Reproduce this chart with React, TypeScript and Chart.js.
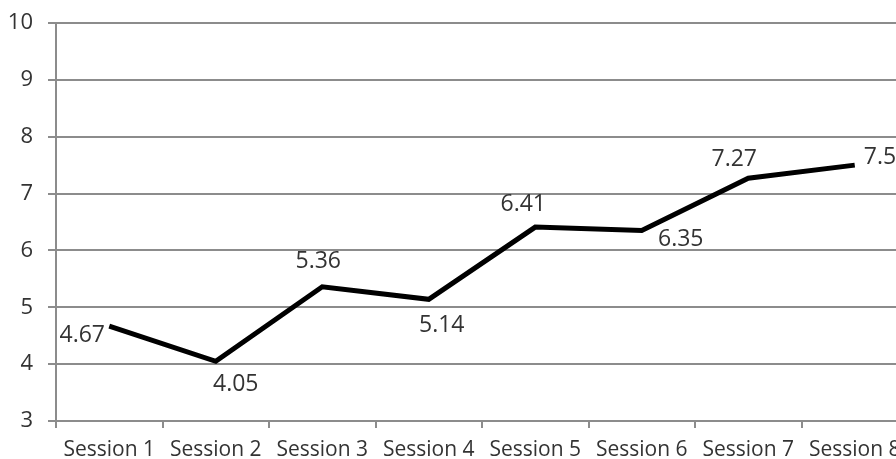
import { useEffect, useRef } from "react";
import { Chart, registerables } from "chart.js";

Chart.register(...registerables);

// Session names and average scores
const sessions = [
  "Session 1",
  "Session 2",
  "Session 3",
  "Session 4",
  "Session 5",
  "Session 6",
  "Session 7",
  "Session 8",
];
const scores = [4.67, 4.05, 5.36, 5.14, 6.41, 6.35, 7.27, 7.5];
const scoreLabels = ["4.67", "4.05", "5.36", "5.14", "6.41", "6.35", "7.27", "7.5"];

// Value axis range
const yMin = 3;
const yMax = 10;
const yStep = 1;

// Label offsets (dx, dy) from each point, and text alignment
const labelOffsets: [number, number, CanvasTextAlign][] = [
  [-27, 9, "center"],
  [20, 23, "center"],
  [-4, -25, "center"],
  [13, 26, "center"],
  [-12, -23, "center"],
  [39, 9, "center"],
  [-14, -19, "center"],
  [9, -8, "left"],
];

const GRID = "#8c8c8c";
const TEXT = "#333333";
const FONT = "'Open Sans', sans-serif";

const pointLabels = {
  id: "pointLabels",
  afterDatasetsDraw(chart: Chart) {
    const ctx = chart.ctx;
    const meta = chart.getDatasetMeta(0);
    ctx.save();
    ctx.fillStyle = TEXT;
    ctx.font = `23px ${FONT}`;
    ctx.textBaseline = "middle";
    meta.data.forEach((pt: any, i: number) => {
      const [dx, dy, align] = labelOffsets[i];
      ctx.textAlign = align;
      ctx.fillText(scoreLabels[i], pt.x + dx, pt.y + dy);
    });
    ctx.restore();
  },
};

export default function App() {
  const canvasRef = useRef<HTMLCanvasElement | null>(null);

  useEffect(() => {
    if (!canvasRef.current) return;
    const chart = new Chart(canvasRef.current, {
      type: "line",
      data: {
        labels: sessions,
        datasets: [
          {
            data: scores,
            borderColor: "#000000",
            borderWidth: 5,
            pointRadius: 0,
            tension: 0,
            fill: false,
          },
        ],
      },
      plugins: [pointLabels],
      options: {
        responsive: false,
        animation: false,
        layout: { padding: { top: 23, right: 4, bottom: 0, left: 0 } },
        plugins: {
          legend: { display: false },
          tooltip: { enabled: false },
        },
        scales: {
          x: {
            type: "category",
            offset: true,
            afterFit: (scale: any) => {
              scale.height = 38;
            },
            grid: {
              offset: true,
              drawOnChartArea: false,
              drawTicks: true,
              tickLength: 7,
              color: GRID,
              lineWidth: 2,
            },
            border: { display: true, color: GRID, width: 2 },
            ticks: {
              color: TEXT,
              font: { family: FONT, size: 21 },
              padding: 9,
              maxRotation: 0,
              autoSkip: false,
            },
          },
          y: {
            min: yMin,
            max: yMax,
            afterFit: (scale: any) => {
              scale.width = 56;
              scale.paddingTop = 0;
              scale.paddingBottom = 0;
            },
            grid: {
              color: GRID,
              lineWidth: 2,
              drawTicks: true,
              tickLength: 8,
            },
            border: { display: true, color: GRID, width: 2 },
            ticks: {
              stepSize: yStep,
              color: TEXT,
              font: { family: FONT, size: 22 },
              padding: 15,
            },
          },
        },
      },
    });
    return () => chart.destroy();
  }, []);

  return (
    <div
      style={{
        position: "fixed",
        left: 0,
        top: 0,
        width: 896,
        height: 459,
        overflow: "hidden",
        background: "#ffffff",
      }}
    >
      <canvas ref={canvasRef} width={912} height={459} style={{ display: "block" }} />
    </div>
  );
}
